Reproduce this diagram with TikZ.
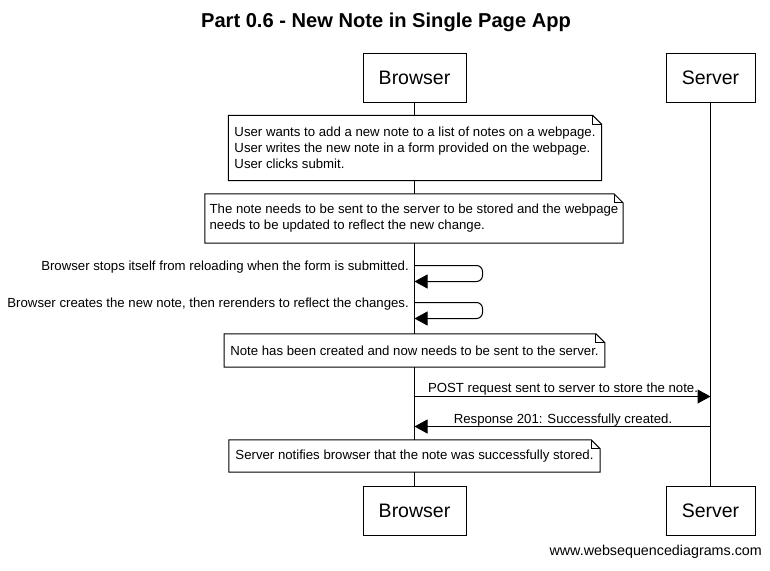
\documentclass[tikz,border=0pt]{standalone}
\usepackage{fontspec}
\setmainfont{Liberation Sans}
\usetikzlibrary{arrows.meta,calc}
\begin{document}
\begin{tikzpicture}[x=1pt,y=-1pt,
  actor/.style={draw, line width=1pt, fill=white, font=\fontsize{19.5}{23}\selectfont, minimum height=49pt, inner sep=0pt},
  notebox/.style={fill=white, font=\fontsize{13.2}{16}\selectfont, align=left, inner xsep=6pt, inner ysep=0pt},
  lbl/.style={font=\fontsize{13.2}{16}\selectfont, inner sep=0pt},
  msg/.style={line width=1pt, -{Triangle[length=13pt,width=14pt]}},
  selfmsg/.style={line width=1pt, rounded corners=6pt, -{Triangle[length=13pt,width=14pt]}},
  life/.style={line width=1pt},
  noteline/.style={line width=1pt},
]
\useasboundingbox (0,0) rectangle (770,570);
\fill[white] (0,0) rectangle (770,570);

% title
\node[font=\fontsize{20.1}{24}\selectfont\bfseries] (title) at (386,22) {Part 0.6 - New Note in Single Page App};

% participants
\node[actor, minimum width=103pt] (btop) at (414.5,77.5) {Browser};
\node[actor, minimum width=89pt] (stop) at (710.5,77.5) {Server};
\node[actor, minimum width=103pt] (bbot) at (414.5,510.5) {Browser};
\node[actor, minimum width=89pt] (sbot) at (710.5,510.5) {Server};

% lifelines
\draw[life] (btop.south) -- (bbot.north);
\draw[life] (stop.south) -- (sbot.north);

% notes
\node[notebox, minimum width=372pt, minimum height=65pt] (n1) at (415,148)
  {User wants to add a new note to a list of notes on a webpage.\\User writes the new note in a form provided on the webpage.\\User clicks submit.};
\node[notebox, inner xsep=4.5pt, minimum width=416pt, minimum height=49pt] (n2) at (414,218.5)
  {The note needs to be sent to the server to be stored and the webpage\\needs to be updated to reflect the new change.};
\node[notebox, minimum width=377pt, minimum height=33pt] (n3) at (414.5,350.5)
  {Note has been created and now needs to be sent to the server.};
\node[notebox, minimum width=371pt, minimum height=32pt] (n4) at (414.5,456)
  {Server notifies browser that the note was successfully stored.};

\foreach \n in {n1,n2,n3,n4} {
  \draw[noteline] (\n.north west) -- ($(\n.north east)+(-9,0)$) -- ($(\n.north east)+(0,9)$)
    -- (\n.south east) -- (\n.south west) -- cycle;
  \draw[noteline] ($(\n.north east)+(-9,0)$) |- ($(\n.north east)+(0,9)$);
}

% self messages
\coordinate (s1a) at (414.5,265.5);
\coordinate (s1b) at (414.5,281.5);
\coordinate (s2a) at (414.5,302.5);
\coordinate (s2b) at (414.5,318.5);
\draw[selfmsg] (s1a) -- ++(68,0) |- (s1b);
\draw[selfmsg] (s2a) -- ++(68,0) |- (s2b);
\node[lbl, anchor=east] (l1) at (409,267) {Browser stops itself from reloading when the form is submitted.};
\node[lbl, anchor=east] (l2) at (409,304) {Browser creates the new note, then rerenders to reflect the changes.};

% messages
\coordinate (m1b) at (414.5,396.5);
\coordinate (m1s) at (710.5,396.5);
\coordinate (m2b) at (414.5,426.5);
\coordinate (m2s) at (710.5,426.5);
\draw[msg] (m1b) -- (m1s);
\draw[msg] (m2s) -- (m2b);
\node[lbl] (l3) at (563,389.5) {POST request sent to server to store the note.};
\node[lbl] (l4) at (563,420) {Response 201: Successfully created.};

% footer
\node[font=\fontsize{14.3}{17}\selectfont, anchor=east, inner sep=0pt] (url) at (762,552) {www.websequencediagrams.com};
\end{tikzpicture}
\end{document}
